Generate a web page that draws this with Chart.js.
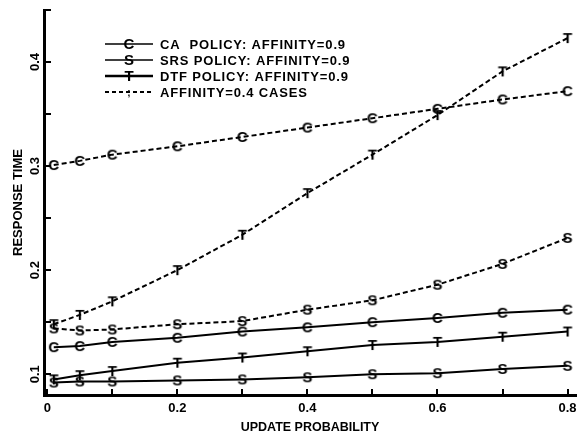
<!DOCTYPE html>
<html>
<head>
<meta charset="utf-8">
<script src="https://cdn.jsdelivr.net/npm/chart.js@4.4.1/dist/chart.umd.min.js"></script>
<style>
  html, body { margin: 0; padding: 0; background: #fff; }
  #wrap { width: 585px; height: 437px; }
</style>
</head>
<body>
<div id="wrap"><canvas id="c" width="585" height="437"></canvas></div>
<script>
// Update probability (x) for every run
const updateProb = [0.01, 0.05, 0.1, 0.2, 0.3, 0.4, 0.5, 0.6, 0.7, 0.8];

// Response times, affinity = 0.9 (solid lines)
const caAff09  = [0.126, 0.127, 0.131, 0.135, 0.141, 0.145, 0.150, 0.154, 0.159, 0.162];
const srsAff09 = [0.092, 0.093, 0.093, 0.094, 0.095, 0.097, 0.100, 0.101, 0.105, 0.108];
const dtfAff09 = [0.095, 0.099, 0.103, 0.111, 0.116, 0.122, 0.128, 0.131, 0.136, 0.141];

// Response times, affinity = 0.4 (dashed lines)
const caAff04  = [0.301, 0.305, 0.311, 0.319, 0.328, 0.337, 0.346, 0.355, 0.364, 0.372];
const srsAff04 = [0.144, 0.142, 0.143, 0.148, 0.151, 0.162, 0.171, 0.186, 0.206, 0.231];
const dtfAff04 = [0.148, 0.157, 0.170, 0.200, 0.234, 0.274, 0.311, 0.349, 0.391, 0.423];

// Axis ticks
const xTicks = [0, 0.1, 0.2, 0.3, 0.4, 0.5, 0.6, 0.7, 0.8];
const xLabelled = [0, 0.2, 0.4, 0.6, 0.8];
const yTicks = [0.1, 0.15, 0.2, 0.25, 0.3, 0.35, 0.4, 0.45];
const yLabelled = [0.1, 0.2, 0.3, 0.4];

// Legend entries
const legendItems = [
  { text: 'CA  POLICY: AFFINITY=0.9', mark: 'C', dashed: false },
  { text: 'SRS POLICY: AFFINITY=0.9', mark: 'S', dashed: false },
  { text: 'DTF POLICY: AFFINITY=0.9', mark: 'T', dashed: false },
  { text: 'AFFINITY=0.4 CASES',       mark: ';', dashed: true }
];

const FONT = '"Liberation Sans", Arial, Helvetica, sans-serif';

// Plot symbols are the policy letters
function letterMarker(ch) {
  const cv = document.createElement('canvas');
  cv.width = 18; cv.height = 18;
  const g = cv.getContext('2d');
  g.font = 'bold 15px ' + FONT;
  g.fillStyle = '#000';
  g.textAlign = 'center';
  g.textBaseline = 'alphabetic';
  g.fillText(ch, 9, 14.4);
  return cv;
}
const markers = { C: letterMarker('C'), S: letterMarker('S'), T: letterMarker('T') };

function pts(ys) { return updateProb.map((x, i) => ({ x, y: ys[i] })); }
function series(label, ys, mark, dashed) {
  return {
    label, data: pts(ys),
    borderColor: '#000', backgroundColor: '#000',
    borderWidth: 2,
    borderDash: dashed ? [5, 3] : [],
    pointStyle: markers[mark], pointRadius: 7, pointHoverRadius: 7,
    tension: 0, clip: false, fill: false
  };
}

// Tick marks point into the plot
const inwardTicks = {
  id: 'inwardTicks',
  afterDatasetsDraw(chart) {
    const { ctx, chartArea: { left, bottom }, scales: { x, y } } = chart;
    ctx.save();
    ctx.strokeStyle = '#000';
    ctx.lineWidth = 2;
    ctx.beginPath();
    yTicks.forEach(v => {
      const py = Math.round(y.getPixelForValue(v));
      ctx.moveTo(left, py); ctx.lineTo(left + 7, py);
    });
    xTicks.forEach(v => {
      const px = Math.round(x.getPixelForValue(v));
      ctx.moveTo(px, bottom); ctx.lineTo(px, bottom - 6);
    });
    ctx.stroke();
    ctx.restore();
  }
};

// Legend box in the upper left of the plot
const cornerLegend = {
  id: 'cornerLegend',
  afterDraw(chart) {
    const { ctx } = chart;
    const rows = [44, 60, 76, 92];
    ctx.save();
    legendItems.forEach((it, i) => {
      const yy = rows[i];
      ctx.strokeStyle = '#000';
      ctx.lineWidth = it.mark === 'T' ? 2.4 : (it.dashed ? 2 : 1.6);
      ctx.setLineDash(it.dashed ? [4, 3] : []);
      ctx.beginPath();
      ctx.moveTo(105, yy); ctx.lineTo(153, yy);
      ctx.stroke();
      ctx.setLineDash([]);
      if (it.dashed) {
        ctx.font = 'bold 10px ' + FONT;
        ctx.fillStyle = '#000';
        ctx.textAlign = 'center';
        ctx.textBaseline = 'middle';
        ctx.fillText(it.mark, 129, yy + 1);
      } else {
        ctx.drawImage(markers[it.mark], 129 - 9, yy - 9);
      }
      ctx.font = 'bold 13px ' + FONT;
      ctx.letterSpacing = '0.85px';
      ctx.fillStyle = '#000';
      ctx.textAlign = 'left';
      ctx.textBaseline = 'middle';
      ctx.fillText(it.text, 160, yy + 1);
      ctx.letterSpacing = '0px';
    });
    ctx.restore();
  }
};

const near = (v, list) => list.some(t => Math.abs(t - v) < 1e-6);

new Chart(document.getElementById('c'), {
  type: 'line',
  data: {
    datasets: [
      series('CA POLICY: AFFINITY=0.9', caAff09, 'C', false),
      series('SRS POLICY: AFFINITY=0.9', srsAff09, 'S', false),
      series('DTF POLICY: AFFINITY=0.9', dtfAff09, 'T', false),
      series('CA POLICY: AFFINITY=0.4', caAff04, 'C', true),
      series('SRS POLICY: AFFINITY=0.4', srsAff04, 'S', true),
      series('DTF POLICY: AFFINITY=0.4', dtfAff04, 'T', true)
    ]
  },
  options: {
    responsive: false,
    devicePixelRatio: 1,
    animation: false,
    events: [],
    layout: { padding: { top: 10, right: 0, left: 0, bottom: 0 } },
    plugins: { legend: { display: false }, tooltip: { enabled: false } },
    scales: {
      x: {
        type: 'linear',
        min: -0.005, max: 0.813,
        afterBuildTicks: s => { s.ticks = xTicks.map(v => ({ value: v })); },
        afterFit: s => { s.height = 42; },
        grid: { display: false, drawTicks: false },
        border: { display: true, width: 3, color: '#000' },
        ticks: {
          padding: 6,
          maxRotation: 0, minRotation: 0, autoSkip: false,
          color: '#000',
          font: { family: FONT, size: 13, weight: 'bold' },
          callback: v => near(v, xLabelled) ? (v === 0 ? '0' : v.toFixed(1)) : ''
        },
        title: {
          display: true, text: 'UPDATE PROBABILITY', color: '#000',
          font: { family: FONT, size: 12.5, weight: 'bold' },
          padding: { top: 0, bottom: 1.5 }
        }
      },
      y: {
        type: 'linear',
        min: 0.08, max: 0.45,
        afterBuildTicks: s => { s.ticks = yTicks.map(v => ({ value: v })); },
        afterFit: s => { s.width = 44; },
        grid: { display: false, drawTicks: false },
        border: { display: true, width: 3, color: '#000' },
        ticks: {
          padding: 0,
          minRotation: 90, maxRotation: 90, autoSkip: false,
          crossAlign: 'center',
          color: '#000',
          font: { family: FONT, size: 13, weight: 'bold' },
          callback: v => near(v, yLabelled) ? v.toFixed(1) : ''
        },
        title: {
          display: true, text: 'RESPONSE TIME', color: '#000',
          font: { family: FONT, size: 13, weight: 'bold' },
          padding: { top: 11, bottom: 0 }
        }
      }
    }
  },
  plugins: [inwardTicks, cornerLegend]
});
</script>
</body>
</html>
